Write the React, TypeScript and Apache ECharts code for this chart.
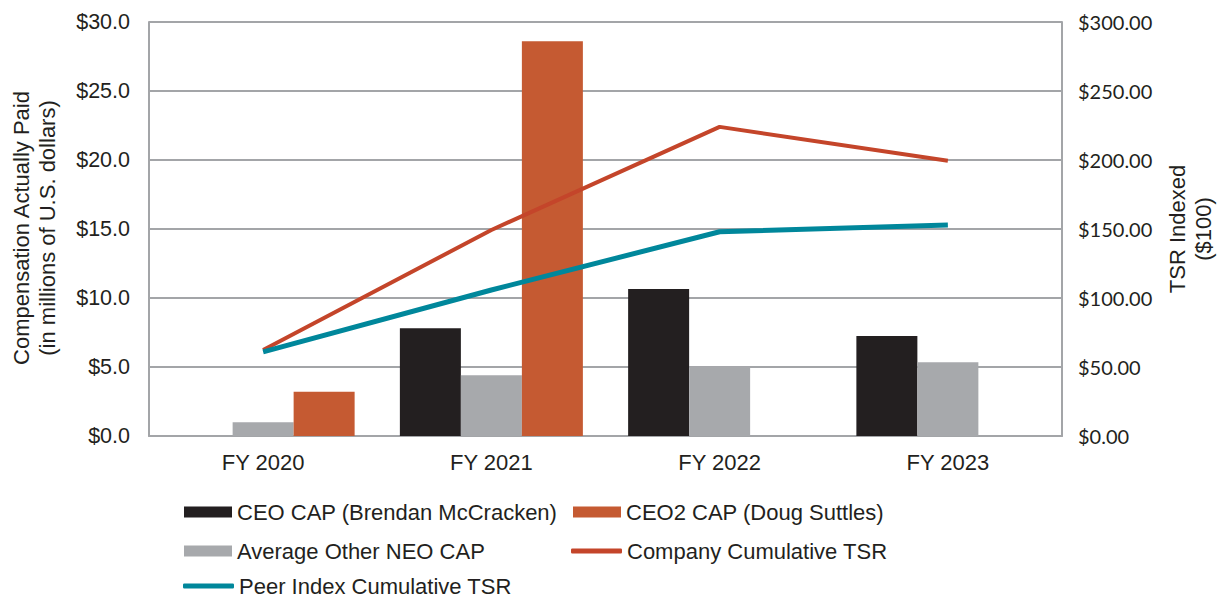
import React, { useEffect, useRef } from "react";
import * as echarts from "echarts";

const categories = ["FY 2020", "FY 2021", "FY 2022", "FY 2023"];
const ceoCap = [null, 7.8, 10.65, 7.25];
const neoCap = [1.0, 4.4, 5.05, 5.35];
const ceo2Cap = [3.2, 28.6, null, null];
const companyTsr = [62.3, 149.3, 224.0, 199.5];
const peerTsr = [61.0, 105.8, 148.0, 152.9];

const leftTicks = { min: 0, max: 30, interval: 5 };
const rightTicks = { min: 0, max: 300, interval: 50 };

const BLACK = "#231f20";
const GREY = "#a7a9ac";
const ORANGE = "#c55a32";
const RED = "#c4452a";
const TEAL = "#00879b";
const AXIS = "#a3a5a8";
const FONT = "'Liberation Sans', Arial, sans-serif";

export default function App() {
  const ref = useRef<HTMLDivElement>(null);
  useEffect(() => {
    if (!ref.current) return;
    const chart = echarts.init(ref.current, null, { renderer: "svg" });
    const legendText = { fontFamily: FONT, fontSize: 22, color: BLACK, lineHeight: 20 };
    const mkLegend = (name: string, left: number, top: number, line: boolean) => ({
      data: [{ name, icon: line ? "roundRect" : "rect" }],
      left,
      top,
      padding: 0,
      itemWidth: line ? 51 : 48,
      itemHeight: line ? 5 : 11,
      textStyle: legendText,
      selectedMode: false,
    });
    chart.setOption({
      animation: false,
      grid: { left: 149, right: 155, top: 22, bottom: 161, containLabel: false, outerBoundsMode: "none" },
      legend: [
        mkLegend("CEO CAP (Brendan McCracken)", 184, 501, false),
        mkLegend("CEO2 CAP (Doug Suttles)", 573, 501, false),
        mkLegend("Average Other NEO CAP", 184, 540, false),
        mkLegend("Company Cumulative TSR", 571, 540, true),
        mkLegend("Peer Index Cumulative TSR", 183, 575, true),
      ],
      xAxis: {
        type: "category",
        data: categories,
        axisTick: { show: false },
        axisLine: { lineStyle: { color: AXIS, width: 2 } },
        axisLabel: { fontFamily: FONT, fontSize: 22, color: BLACK, margin: 15 },
      },
      yAxis: [
        {
          type: "value",
          ...leftTicks,
          axisLine: { show: true, lineStyle: { color: AXIS, width: 2 } },
          axisTick: { show: false },
          splitLine: { lineStyle: { color: AXIS, width: 2 } },
          axisLabel: {
            fontFamily: FONT,
            fontSize: 21.5,
            color: BLACK,
            margin: 19,
            formatter: (v: number) => "$" + v.toFixed(1),
          },
        },
        {
          type: "value",
          ...rightTicks,
          position: "right",
          axisLine: { show: true, lineStyle: { color: AXIS, width: 2 } },
          axisTick: { show: false },
          splitLine: { show: false },
          axisLabel: {
            fontFamily: "Lato, 'Open Sans', sans-serif",
            fontSize: 20,
            color: BLACK,
            margin: 16,
            formatter: (v: number) => "$" + v.toFixed(2),
          },
        },
      ],
      graphic: [
        {
          type: "text",
          x: 34,
          y: 228,
          rotation: Math.PI / 2,
          style: {
            text: "Compensation Actually Paid\n(in millions of U.S. dollars)",
            font: "22px " + FONT,
            fill: BLACK,
            align: "center",
            verticalAlign: "middle",
            lineHeight: 26,
          },
        },
        {
          type: "text",
          x: 1190,
          y: 229,
          rotation: Math.PI / 2,
          style: {
            text: "TSR Indexed\n($100)",
            font: "22px " + FONT,
            fill: BLACK,
            align: "center",
            verticalAlign: "middle",
            lineHeight: 26,
          },
        },
      ],
      series: [
        {
          name: "CEO CAP (Brendan McCracken)",
          type: "bar",
          data: ceoCap,
          barWidth: 61,
          barGap: "0%",
          itemStyle: { color: BLACK },
        },
        {
          name: "Average Other NEO CAP",
          type: "bar",
          data: neoCap,
          barWidth: 61,
          barGap: "0%",
          itemStyle: { color: GREY },
        },
        {
          name: "CEO2 CAP (Doug Suttles)",
          type: "bar",
          data: ceo2Cap,
          barWidth: 61,
          barGap: "0%",
          itemStyle: { color: ORANGE },
        },
        {
          name: "Company Cumulative TSR",
          type: "line",
          yAxisIndex: 1,
          data: companyTsr,
          showSymbol: false,
          symbol: "none",
          lineStyle: { color: RED, width: 4 },
          itemStyle: { color: RED },
        },
        {
          name: "Peer Index Cumulative TSR",
          type: "line",
          yAxisIndex: 1,
          data: peerTsr,
          showSymbol: false,
          symbol: "none",
          lineStyle: { color: TEAL, width: 5 },
          itemStyle: { color: TEAL },
        },
      ],
    });
    return () => chart.dispose();
  }, []);
  return <div ref={ref} style={{ width: 1217, height: 597, position: "absolute", left: 0, top: 0 }} />;
}
